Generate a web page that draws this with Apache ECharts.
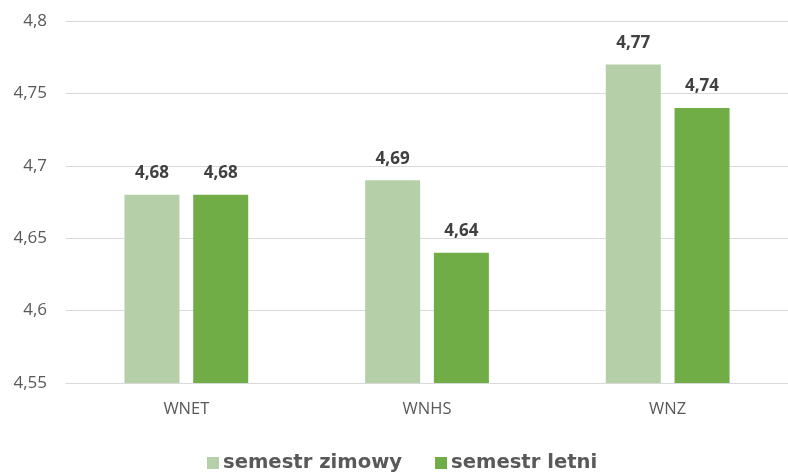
<!DOCTYPE html>
<html>
<head>
<meta charset="utf-8">
<script src="https://cdn.jsdelivr.net/npm/echarts@6/dist/echarts.min.js"></script>
<style>
  html, body { margin: 0; padding: 0; background: #fff; }
  #chart { width: 788px; height: 474px; }
</style>
</head>
<body>
<div id="chart"></div>
<script>
const categories = ['WNET', 'WNHS', 'WNZ'];
const seriesNames = ['semestr zimowy', 'semestr letni'];
const winter = [4.68, 4.69, 4.77];
const summer = [4.68, 4.64, 4.74];

const chart = echarts.init(document.getElementById('chart'));

const fmt = v => String(v).replace('.', ',');

const label = {
    show: true,
    position: 'top',
    distance: 13,
    fontFamily: 'Open Sans',
    fontWeight: 'bold',
    fontSize: 17,
    color: '#404040',
    formatter: p => fmt(p.value)
};

const option = {
    animation: false,
    grid: { left: 66, right: -3, top: 21, bottom: 91 },
    legend: {
        bottom: -4,
        left: 202,
        itemWidth: 12,
        itemHeight: 12,
        itemGap: 33,
        icon: 'rect',
        textStyle: {
            fontFamily: 'DejaVu Sans',
            fontWeight: 'bold',
            fontSize: 19.6,
            color: '#595959',
            padding: [0, 0, 0, -1]
        },
        data: seriesNames
    },
    xAxis: {
        type: 'category',
        data: categories,
        axisLine: { lineStyle: { color: '#d9d9d9' } },
        axisTick: { show: false },
        axisLabel: { fontFamily: 'Open Sans', fontSize: 16.5, color: '#595959', margin: 18 }
    },
    yAxis: {
        type: 'value',
        min: 4.55,
        max: 4.8,
        interval: 0.05,
        axisLine: { show: false },
        axisTick: { show: false },
        splitLine: { lineStyle: { color: '#d9d9d9' } },
        axisLabel: {
            fontFamily: 'Open Sans',
            fontSize: 17,
            color: '#595959',
            margin: 19,
            formatter: v => fmt(+v.toFixed(2))
        }
    },
    series: [
        {
            name: seriesNames[0],
            type: 'bar',
            data: winter,
            barWidth: 55,
            barGap: '25%',
            itemStyle: { color: '#b5d0a8' },
            label: label
        },
        {
            name: seriesNames[1],
            type: 'bar',
            data: summer,
            barWidth: 55,
            barGap: '25%',
            itemStyle: { color: '#70ad47' },
            label: label
        }
    ]
};

chart.setOption(option);
</script>
</body>
</html>
